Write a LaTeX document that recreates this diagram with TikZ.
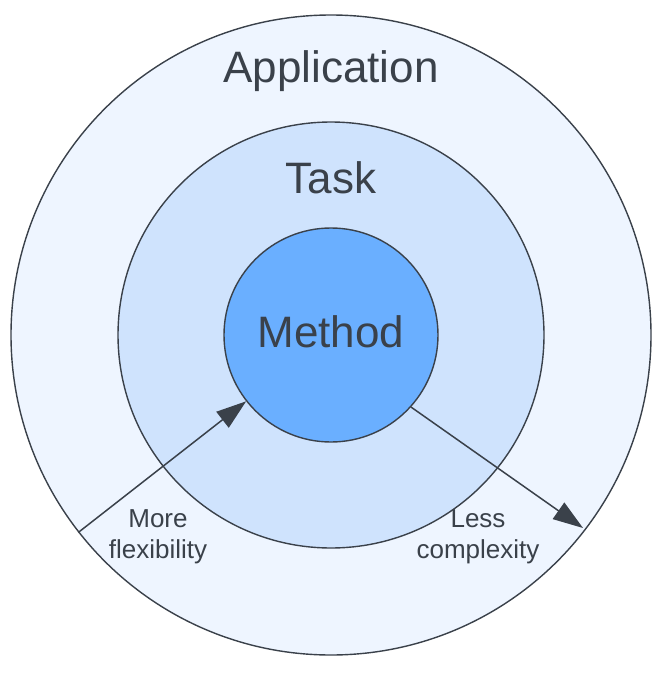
\documentclass[tikz,border=0pt]{standalone}
\usepackage{fontspec}
\setmainfont{Liberation Sans}
\usetikzlibrary{arrows.meta}
\definecolor{ink}{HTML}{3A414A}
\definecolor{outerc}{HTML}{EEF5FF}
\definecolor{midc}{HTML}{CFE3FD}
\definecolor{innerc}{HTML}{6AAFFF}
\begin{document}
\begin{tikzpicture}[x=1pt,y=-1pt,
  ring/.style={circle,draw=ink,line width=1.4pt,inner sep=0pt},
  big/.style={font=\fontsize{44}{50}\selectfont,text=ink,anchor=base,inner sep=0pt},
  small/.style={font=\fontsize{26}{31}\selectfont,text=ink,align=center},
  arr/.style={draw=ink,line width=1.5pt,-{Triangle[length=30pt,width=20pt]}}]
\useasboundingbox (0,0) rectangle (660,674);
\node[ring,fill=outerc,minimum size=640pt] (app) at (331,335) {};
\node[ring,fill=midc,minimum size=426pt] (task) at (331,335) {};
\node[ring,fill=innerc,minimum size=214pt] (method) at (331,335) {};
\node[big] (tapp) at (331,83) {Application};
\node[big] (ttask) at (331,193) {Task};
\node[big] (tmethod) at (331,347) {Method};
\coordinate (rend) at (583,528);
\draw[arr] (app.218.5) -- (method.218.5);
\draw[arr] (method.-42) -- (rend);
\node[small] (lflex) at (158,537) {More\\flexibility};
\node[small] (lcomp) at (478,537) {Less\\complexity};
\end{tikzpicture}
\end{document}
